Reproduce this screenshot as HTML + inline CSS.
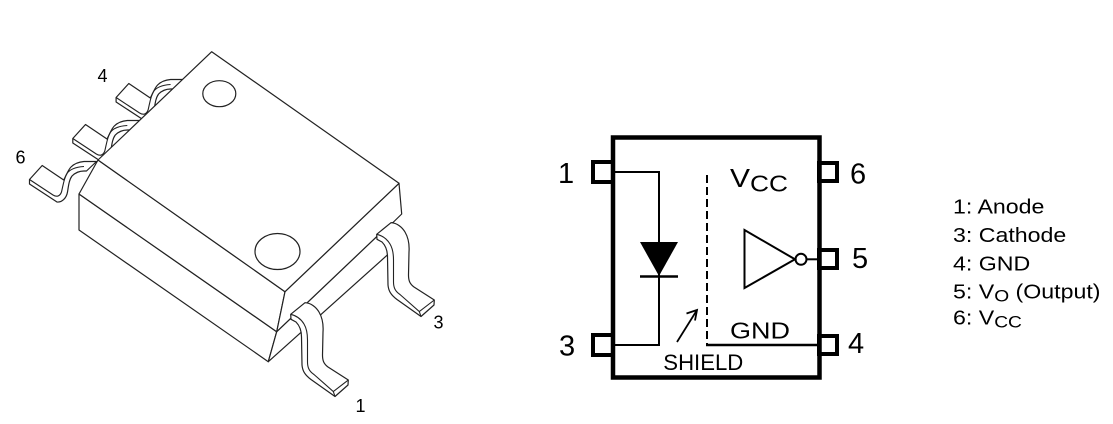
<!DOCTYPE html>
<html><head><meta charset="utf-8"><style>
html,body{margin:0;padding:0;background:#fff;}
svg{display:block;}
text{font-family:"Liberation Sans",Arial,sans-serif;fill:#000;}
</style></head><body>
<svg width="1113" height="424" viewBox="0 0 1113 424" xmlns="http://www.w3.org/2000/svg">
<rect x="0" y="0" width="1113" height="424" fill="#fff"/>

<defs>
<g id="lpin">
  <path d="M29.5,179.5 L42.2,165.5 L63.7,180 C66,176 68,170 71,167 C74,164 78,162 84,161.5 L96.5,161.5 L86.5,171 L84,171 C79,171 75,173 72,176 C69,180 68.5,186 67.5,192 C66.5,198 62,202.5 57,202 L29.5,184 Z" fill="#fff" stroke="#222" stroke-width="1.2" stroke-linejoin="round"/>
  <path d="M29.5,179.5 L53,195 C57,197.5 60,196 61.5,192 C63,186 64,178 67,173.5 C70,169 76,167 84,166.5" fill="none" stroke="#222" stroke-width="1.1"/>
</g>
<g id="rpin">
  <path d="M290.7,314.3 L305,302.7 C311,303 316,307 319,312 C322.5,318 323.5,325 323,332 L322.5,355 C322.5,361 324,364 328,367 L348.3,380 L348,385 L335,396.5 L311,379.5 C305,375 302.5,371 302,365 L301.5,337 C301.5,330 299,325 296,322 L291,319.3 Z" fill="#fff" stroke="#222" stroke-width="1.2" stroke-linejoin="round"/>
  <path d="M290.7,314.3 C296,315.5 301,319 304,324 C307,329 307.5,334 307.5,340 L307.5,362 C307.5,368 309.5,371.5 314,374.5 L333.3,391.5 L348.3,380 M333.3,391.5 L335,396.5" fill="none" stroke="#222" stroke-width="1.1"/>
</g>
</defs>

<!-- left pins (behind body) -->
<use href="#lpin" transform="translate(86.6,-82)"/>
<use href="#lpin" transform="translate(43.3,-41)"/>
<use href="#lpin"/>

<!-- body -->
<g fill="#fff" stroke="#222" stroke-width="1.2" stroke-linejoin="round">
  <polygon points="79,194 276.7,331.7 268.3,361.7 79,230"/>
  <polygon points="276.7,331.7 391,223 389,253.5 268.3,361.7"/>
  <polygon points="98,160 285,291.7 276.7,331.7 79,194"/>
  <polygon points="285,291.7 399,183.3 401.7,214 393,222.5 391,223 276.7,331.7"/>
  <polygon points="211.7,51.7 399,183.3 285,291.7 98,160"/>
  <ellipse cx="219.3" cy="93.7" rx="16.5" ry="13"/>
  <ellipse cx="277.5" cy="251.5" rx="22.5" ry="18"/>
</g>

<!-- front pins -->
<use href="#rpin" transform="translate(86,-80)"/>
<use href="#rpin"/>

<!-- package labels -->
<text x="97.5" y="82" font-size="18">4</text>
<text x="15.5" y="163.5" font-size="18">6</text>
<text x="433.5" y="328.5" font-size="18">3</text>
<text x="355.5" y="412" font-size="18">1</text>

<!-- schematic -->
<g fill="none" stroke="#000">
  <rect x="613" y="137.5" width="206.5" height="240" stroke-width="4.5"/>
  <rect x="593" y="162" width="20" height="20" stroke-width="4"/>
  <rect x="593" y="335" width="20" height="20" stroke-width="4"/>
  <rect x="819" y="163" width="18" height="18" stroke-width="4"/>
  <rect x="819" y="250" width="18" height="18" stroke-width="4"/>
  <rect x="819" y="336" width="18" height="18" stroke-width="4"/>
  <polyline points="615,172 659,172 659,345 615,345" stroke-width="2"/>
  <line x1="640" y1="276.5" x2="678" y2="276.5" stroke-width="2.5"/>
  <line x1="707" y1="175" x2="707" y2="345" stroke-width="2" stroke-dasharray="8,4"/>
  <line x1="706" y1="345" x2="818" y2="345" stroke-width="2.5"/>
  <line x1="677" y1="342" x2="697" y2="310" stroke-width="1.8"/>
  <polyline points="686.5,313.5 697,310 695,320.5" stroke-width="1.8"/>
  <polygon points="744.5,230 744.5,288 795,259.3" stroke-width="2"/>
  <circle cx="801" cy="259.3" r="5.5" stroke-width="2"/>
  <line x1="806.5" y1="259.3" x2="818" y2="259.3" stroke-width="2"/>
</g>
<polygon points="640,242 678,242 659,276" fill="#000"/>

<text x="558" y="183" font-size="29">1</text>
<text x="559" y="355.5" font-size="29">3</text>
<text x="850" y="183.3" font-size="29">6</text>
<text x="852" y="268" font-size="29">5</text>
<text x="848" y="353" font-size="29">4</text>
<text x="730" y="187" font-size="25.7" textLength="20" lengthAdjust="spacingAndGlyphs">V</text>
<text x="750" y="191.7" font-size="23" textLength="38" lengthAdjust="spacingAndGlyphs">CC</text>
<text x="730" y="338.3" font-size="23.5" textLength="60" lengthAdjust="spacingAndGlyphs">GND</text>
<text x="663.3" y="370" font-size="22.5" textLength="80" lengthAdjust="spacingAndGlyphs">SHIELD</text>

<!-- legend -->
<g transform="translate(953,0) scale(1.13,1)" font-size="20.5">
  <text x="0" y="213.5">1: Anode</text>
  <text x="0" y="242">3: Cathode</text>
  <text x="0" y="270.5">4: GND</text>
  <text x="0" y="298.5">5: V<tspan font-size="17" dy="3">O</tspan><tspan dy="-3"> (Output)</tspan></text>
  <text x="0" y="324.5">6: V<tspan font-size="17" dy="3">CC</tspan></text>
</g>
</svg>
</body></html>
